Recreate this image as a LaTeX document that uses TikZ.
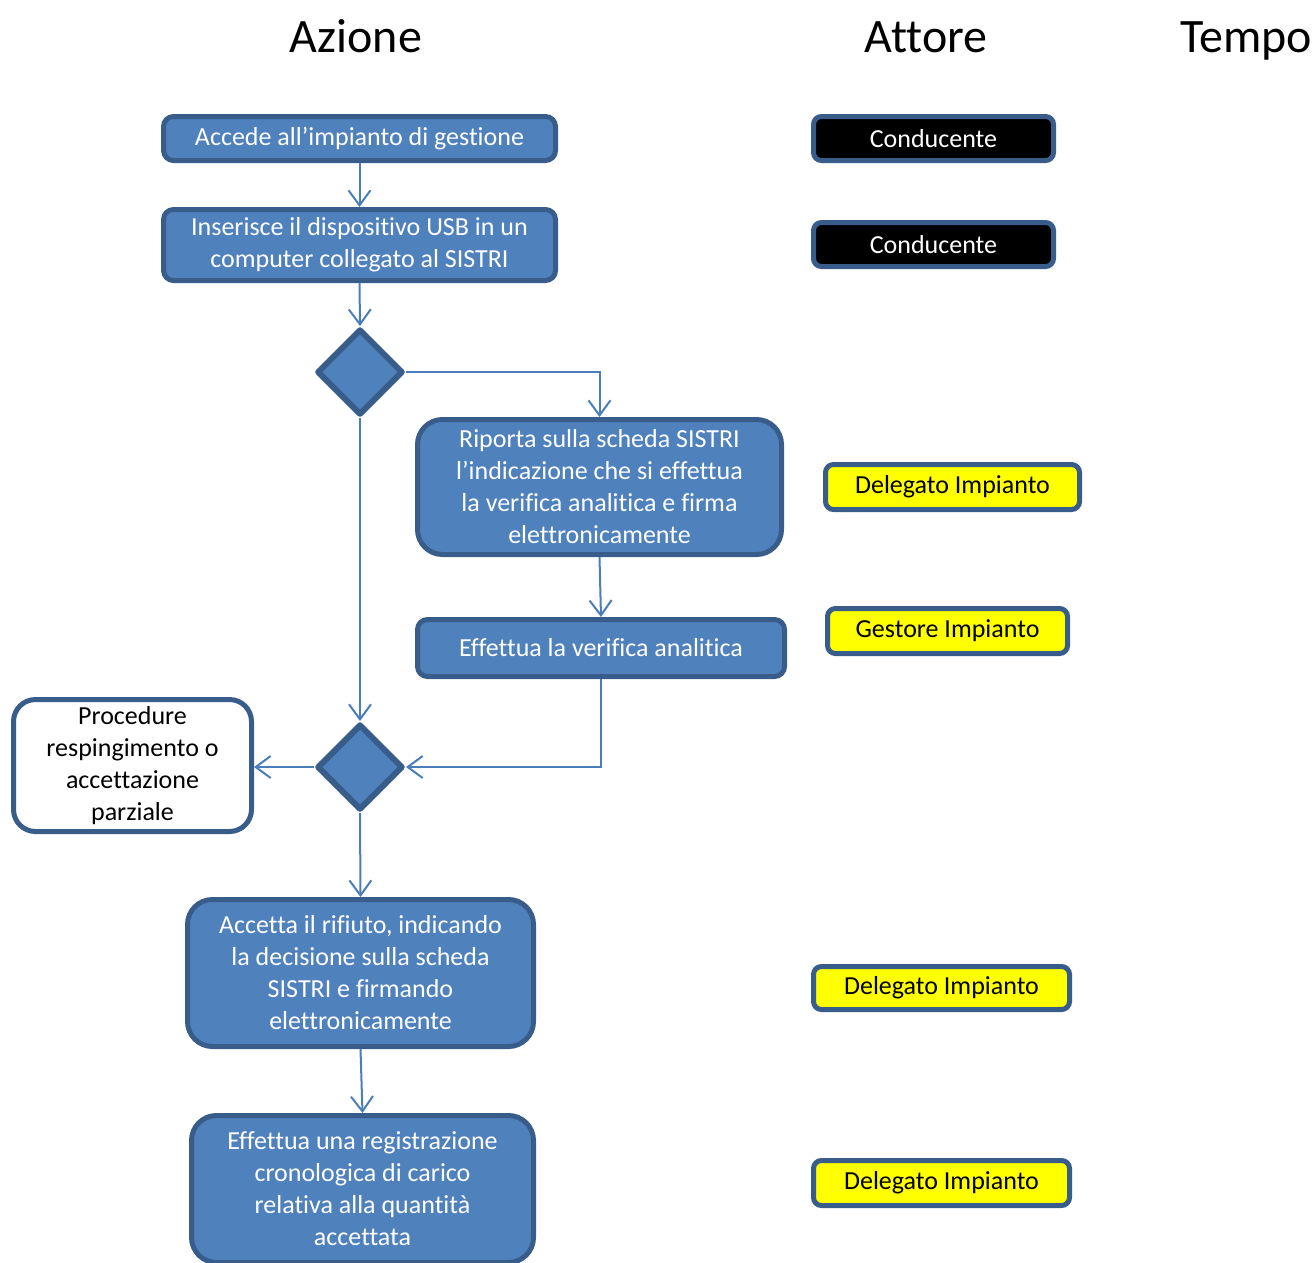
\documentclass[tikz,border=0pt]{standalone}
\usepackage{fontspec}
\setmainfont{Carlito}[RawFeature={-liga;-clig;-calt;-dlig;-rlig}]
\usetikzlibrary{shapes.geometric,arrows.meta}
\definecolor{boxfill}{HTML}{4F81BD}
\definecolor{boxline}{HTML}{385D8A}
\definecolor{conn}{HTML}{4A7EBB}
\definecolor{yel}{HTML}{FFFF00}
\begin{document}
\begin{tikzpicture}[x=1pt,y=-1pt,
  base/.style={draw=boxline, line width=5pt, align=center, inner sep=0pt, font=\fontsize{26}{32}\selectfont},
  act/.style={base, fill=boxfill, text=white},
  rsmall/.style={rounded corners=10pt},
  rbig/.style={rounded corners=25pt},
  actor/.style={base, rounded corners=8pt},
  blackact/.style={actor, fill=black, text=white},
  yelact/.style={actor, fill=yel, text=black},
  dec/.style={diamond, draw=boxline, fill=boxfill, line width=6pt, line join=round, inner sep=0pt, minimum width=86pt, minimum height=86pt},
  title/.style={font=\fontsize{48}{56}\selectfont, anchor=base, inner sep=0pt},
  conn/.style={draw=conn, line width=2pt, -{Straight Barb[length=15pt,width=22pt]}}
]
\useasboundingbox (0,0) rectangle (1315,1262);

% titles
\node[title] (tA) at (356,52) {Azione};
\node[title] (tB) at (926,52) {Attore};
\node[title] (tC) at (1246,52) {Tempo};

% action boxes
\node[act, rsmall, minimum width=392pt, minimum height=44pt] (b1) at (359.5,138.5) {Accede all’impianto di gestione};
\node[act, rsmall, minimum width=392pt, minimum height=71pt] (b2) at (359.5,245) {Inserisce il dispositivo USB in un\\computer collegato al SISTRI};
\node[dec] (d1) at (360,372) {};
\node[act, rbig, minimum width=364pt, minimum height=135pt] (b3) at (599.5,487) {Riporta sulla scheda SISTRI\\l’indicazione che si effettua\\la verifica analitica e firma\\elettronicamente};
\node[act, rsmall, minimum width=367pt, minimum height=57pt] (b4) at (601,648) {Effettua la verifica analitica};
\node[dec] (d2) at (360,767) {};
\node[base, fill=white, text=black, rounded corners=22pt, minimum width=238pt, minimum height=132pt] (pr) at (132.5,765.5) {Procedure\\respingimento o\\accettazione\\parziale};
\node[act, rbig, minimum width=346pt, minimum height=147pt] (b5) at (360.5,973) {Accetta il rifiuto, indicando\\la decisione sulla scheda\\SISTRI e firmando\\elettronicamente};
\node[act, rbig, minimum width=342pt, minimum height=147pt] (b6) at (362.5,1189) {Effettua una registrazione\\cronologica di carico\\relativa alla quantità\\accettata};

% actor boxes
\node[blackact, minimum width=240pt, minimum height=44pt] (a1) at (933.5,138.5) {Conducente};
\node[blackact, minimum width=240pt, minimum height=44pt] (a2) at (933.5,244.5) {Conducente};
\node[yelact, minimum width=254pt, minimum height=45pt] (a3) at (952.5,487) {Delegato Impianto};
\node[yelact, minimum width=240pt, minimum height=45pt] (a4) at (947.5,631) {Gestore Impianto};
\node[yelact, minimum width=256pt, minimum height=43pt] (a5) at (941.5,988) {Delegato Impianto};
\node[yelact, minimum width=256pt, minimum height=45pt] (a6) at (941.5,1183) {Delegato Impianto};

% connectors
\draw[conn] (b1.south) -- (b2.north);
\draw[conn] (b2.south) -- (d1.north);
\draw[conn] (d1.east) -| (b3.north);
\draw[conn] (d1.south) -- (d2.north);
\draw[conn] (b3.south) -- (b4.north);
\draw[conn] (b4.south) |- (d2.east);
\draw[conn] (d2.west) -- (d2.west -| pr.east);
\draw[conn] (d2.south) -- (b5.north);
\draw[conn] (b5.south) -- (b6.north);
\end{tikzpicture}
\end{document}
